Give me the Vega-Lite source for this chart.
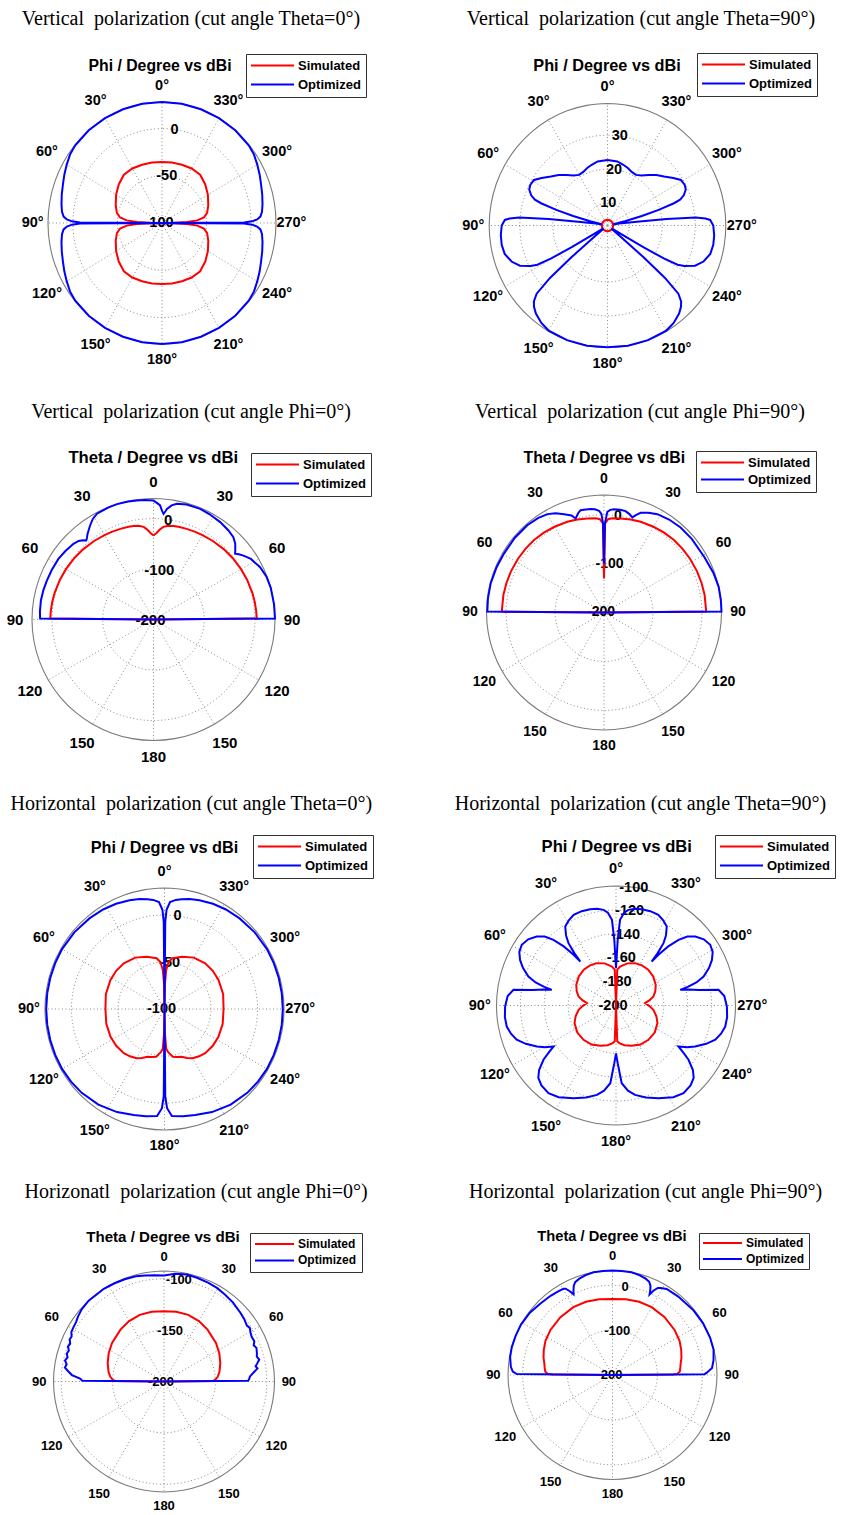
{
  "$schema": "https://vega.github.io/schema/vega-lite/v6.json",
  "background": "white",
  "padding": 0,
  "spacing": 0,
  "resolve": {"scale": {"color": "independent"}, "legend": {"color": "independent"}},
  "config": {
    "view": {"stroke": null},
    "legend": {
      "title": null, "orient": "none",
      "symbolType": "M-4.3,0H4.3", "symbolSize": 100, "symbolStrokeWidth": 2,
      "symbolOffset": 15, "labelOffset": 19,
      "labelFont": "Liberation Sans", "labelFontWeight": "bold", "labelFontSize": 13, "labelColor": "#000000",
      "padding": 5, "rowPadding": 5, "strokeColor": "#333333", "fillColor": "#ffffff", "cornerRadius": 0
    }
  },
  "datasets": {
    "axes": [
      {"p": 1, "rmin": -100, "rmax": 28},
      {"p": 2, "rmin": 3.4, "rmax": 39.3},
      {"p": 3, "rmin": -200, "rmax": 39.5},
      {"p": 4, "rmin": -200, "rmax": 40},
      {"p": 5, "rmin": -100, "rmax": 28.5},
      {"p": 6, "rmin": -200, "rmax": -100},
      {"p": 7, "rmin": -200, "rmax": -92.5},
      {"p": 8, "rmin": -200, "rmax": 32.6}
    ],
    "titles": [
      {"p": 1, "title": "Vertical\u00a0 polarization (cut angle Theta=0°)", "sub": "Phi / Degree vs dBi"},
      {"p": 2, "title": "Vertical\u00a0 polarization (cut angle Theta=90°)", "sub": "Phi / Degree vs dBi"},
      {"p": 3, "title": "Vertical\u00a0 polarization (cut angle Phi=0°)", "sub": "Theta / Degree vs dBi"},
      {"p": 4, "title": "Vertical\u00a0 polarization (cut angle Phi=90°)", "sub": "Theta / Degree vs dBi"},
      {"p": 5, "title": "Horizontal\u00a0 polarization (cut angle Theta=0°)", "sub": "Phi / Degree vs dBi"},
      {"p": 6, "title": "Horizontal\u00a0 polarization (cut angle Theta=90°)", "sub": "Phi / Degree vs dBi"},
      {"p": 7, "title": "Horizonatl\u00a0 polarization (cut angle Phi=0°)", "sub": "Theta / Degree vs dBi"},
      {"p": 8, "title": "Horizontal\u00a0 polarization (cut angle Phi=90°)", "sub": "Theta / Degree vs dBi"}
    ],
    "spokes": [
      {"deg": 0}, {"deg": 30}, {"deg": 60}, {"deg": 90}, {"deg": 120}, {"deg": 150},
      {"deg": 180}, {"deg": 210}, {"deg": 240}, {"deg": 270}, {"deg": 300}, {"deg": 330}
    ],
    "angleLabels": [
      {"kind": "phi", "deg": 0, "t": "0°"}, {"kind": "phi", "deg": 30, "t": "30°"}, {"kind": "phi", "deg": 60, "t": "60°"},
      {"kind": "phi", "deg": 90, "t": "90°"}, {"kind": "phi", "deg": 120, "t": "120°"}, {"kind": "phi", "deg": 150, "t": "150°"},
      {"kind": "phi", "deg": 180, "t": "180°"}, {"kind": "phi", "deg": 210, "t": "210°"}, {"kind": "phi", "deg": 240, "t": "240°"},
      {"kind": "phi", "deg": 270, "t": "270°"}, {"kind": "phi", "deg": 300, "t": "300°"}, {"kind": "phi", "deg": 330, "t": "330°"},
      {"kind": "theta", "deg": 0, "t": "0"}, {"kind": "theta", "deg": 30, "t": "30"}, {"kind": "theta", "deg": 60, "t": "60"},
      {"kind": "theta", "deg": 90, "t": "90"}, {"kind": "theta", "deg": 120, "t": "120"}, {"kind": "theta", "deg": 150, "t": "150"},
      {"kind": "theta", "deg": 180, "t": "180"}, {"kind": "theta", "deg": 210, "t": "150"}, {"kind": "theta", "deg": 240, "t": "120"},
      {"kind": "theta", "deg": 270, "t": "90"}, {"kind": "theta", "deg": 300, "t": "60"}, {"kind": "theta", "deg": 330, "t": "30"}
    ],
    "ringLabels": [
      {"p": 1, "db": -100, "t": "-100"}, {"p": 1, "db": -50, "t": "-50"}, {"p": 1, "db": 0, "t": "0"},
      {"p": 2, "db": 10, "t": "10"}, {"p": 2, "db": 20, "t": "20"}, {"p": 2, "db": 30, "t": "30"},
      {"p": 3, "db": -200, "t": "-200"}, {"p": 3, "db": -100, "t": "-100"}, {"p": 3, "db": 0, "t": "0"},
      {"p": 4, "db": -200, "t": "-200"}, {"p": 4, "db": -100, "t": "-100"}, {"p": 4, "db": 0, "t": "0"},
      {"p": 5, "db": -100, "t": "-100"}, {"p": 5, "db": -50, "t": "-50"}, {"p": 5, "db": 0, "t": "0"},
      {"p": 6, "db": -200, "t": "-200"}, {"p": 6, "db": -180, "t": "-180"}, {"p": 6, "db": -160, "t": "-160"},
      {"p": 6, "db": -140, "t": "-140"}, {"p": 6, "db": -120, "t": "-120"}, {"p": 6, "db": -100, "t": "-100"},
      {"p": 7, "db": -200, "t": "-200"}, {"p": 7, "db": -150, "t": "-150"}, {"p": 7, "db": -100, "t": "-100"},
      {"p": 8, "db": -200, "t": "-200"}, {"p": 8, "db": -100, "t": "-100"}, {"p": 8, "db": 0, "t": "0"}
    ],
    "rings": [
      {"p": 1, "ring": "grid", "db": -50, "deg": [0,10,20,30,40,50,60,70,80,90,100,110,120,130,140,150,160,170,180,190,200,210,220,230,240,250,260,270,280,290,300,310,320,330,340,350,360]},
      {"p": 1, "ring": "grid", "db": 0, "deg": [0,10,20,30,40,50,60,70,80,90,100,110,120,130,140,150,160,170,180,190,200,210,220,230,240,250,260,270,280,290,300,310,320,330,340,350,360]},
      {"p": 1, "ring": "edge", "db": 28, "deg": [0,10,20,30,40,50,60,70,80,90,100,110,120,130,140,150,160,170,180,190,200,210,220,230,240,250,260,270,280,290,300,310,320,330,340,350,360]},
      {"p": 2, "ring": "grid", "db": 10, "deg": [0,10,20,30,40,50,60,70,80,90,100,110,120,130,140,150,160,170,180,190,200,210,220,230,240,250,260,270,280,290,300,310,320,330,340,350,360]},
      {"p": 2, "ring": "grid", "db": 20, "deg": [0,10,20,30,40,50,60,70,80,90,100,110,120,130,140,150,160,170,180,190,200,210,220,230,240,250,260,270,280,290,300,310,320,330,340,350,360]},
      {"p": 2, "ring": "grid", "db": 30, "deg": [0,10,20,30,40,50,60,70,80,90,100,110,120,130,140,150,160,170,180,190,200,210,220,230,240,250,260,270,280,290,300,310,320,330,340,350,360]},
      {"p": 2, "ring": "edge", "db": 39.3, "deg": [0,10,20,30,40,50,60,70,80,90,100,110,120,130,140,150,160,170,180,190,200,210,220,230,240,250,260,270,280,290,300,310,320,330,340,350,360]},
      {"p": 3, "ring": "grid", "db": -100, "deg": [0,10,20,30,40,50,60,70,80,90,100,110,120,130,140,150,160,170,180,190,200,210,220,230,240,250,260,270,280,290,300,310,320,330,340,350,360]},
      {"p": 3, "ring": "grid", "db": 0, "deg": [0,10,20,30,40,50,60,70,80,90,100,110,120,130,140,150,160,170,180,190,200,210,220,230,240,250,260,270,280,290,300,310,320,330,340,350,360]},
      {"p": 3, "ring": "edge", "db": 39.5, "deg": [0,10,20,30,40,50,60,70,80,90,100,110,120,130,140,150,160,170,180,190,200,210,220,230,240,250,260,270,280,290,300,310,320,330,340,350,360]},
      {"p": 4, "ring": "grid", "db": -100, "deg": [0,10,20,30,40,50,60,70,80,90,100,110,120,130,140,150,160,170,180,190,200,210,220,230,240,250,260,270,280,290,300,310,320,330,340,350,360]},
      {"p": 4, "ring": "grid", "db": 0, "deg": [0,10,20,30,40,50,60,70,80,90,100,110,120,130,140,150,160,170,180,190,200,210,220,230,240,250,260,270,280,290,300,310,320,330,340,350,360]},
      {"p": 4, "ring": "edge", "db": 40, "deg": [0,10,20,30,40,50,60,70,80,90,100,110,120,130,140,150,160,170,180,190,200,210,220,230,240,250,260,270,280,290,300,310,320,330,340,350,360]},
      {"p": 5, "ring": "grid", "db": -50, "deg": [0,10,20,30,40,50,60,70,80,90,100,110,120,130,140,150,160,170,180,190,200,210,220,230,240,250,260,270,280,290,300,310,320,330,340,350,360]},
      {"p": 5, "ring": "grid", "db": 0, "deg": [0,10,20,30,40,50,60,70,80,90,100,110,120,130,140,150,160,170,180,190,200,210,220,230,240,250,260,270,280,290,300,310,320,330,340,350,360]},
      {"p": 5, "ring": "edge", "db": 28.5, "deg": [0,10,20,30,40,50,60,70,80,90,100,110,120,130,140,150,160,170,180,190,200,210,220,230,240,250,260,270,280,290,300,310,320,330,340,350,360]},
      {"p": 6, "ring": "grid", "db": -180, "deg": [0,10,20,30,40,50,60,70,80,90,100,110,120,130,140,150,160,170,180,190,200,210,220,230,240,250,260,270,280,290,300,310,320,330,340,350,360]},
      {"p": 6, "ring": "grid", "db": -160, "deg": [0,10,20,30,40,50,60,70,80,90,100,110,120,130,140,150,160,170,180,190,200,210,220,230,240,250,260,270,280,290,300,310,320,330,340,350,360]},
      {"p": 6, "ring": "grid", "db": -140, "deg": [0,10,20,30,40,50,60,70,80,90,100,110,120,130,140,150,160,170,180,190,200,210,220,230,240,250,260,270,280,290,300,310,320,330,340,350,360]},
      {"p": 6, "ring": "grid", "db": -120, "deg": [0,10,20,30,40,50,60,70,80,90,100,110,120,130,140,150,160,170,180,190,200,210,220,230,240,250,260,270,280,290,300,310,320,330,340,350,360]},
      {"p": 6, "ring": "edge", "db": -100, "deg": [0,10,20,30,40,50,60,70,80,90,100,110,120,130,140,150,160,170,180,190,200,210,220,230,240,250,260,270,280,290,300,310,320,330,340,350,360]},
      {"p": 7, "ring": "grid", "db": -150, "deg": [0,10,20,30,40,50,60,70,80,90,100,110,120,130,140,150,160,170,180,190,200,210,220,230,240,250,260,270,280,290,300,310,320,330,340,350,360]},
      {"p": 7, "ring": "grid", "db": -100, "deg": [0,10,20,30,40,50,60,70,80,90,100,110,120,130,140,150,160,170,180,190,200,210,220,230,240,250,260,270,280,290,300,310,320,330,340,350,360]},
      {"p": 7, "ring": "edge", "db": -92.5, "deg": [0,10,20,30,40,50,60,70,80,90,100,110,120,130,140,150,160,170,180,190,200,210,220,230,240,250,260,270,280,290,300,310,320,330,340,350,360]},
      {"p": 8, "ring": "grid", "db": -100, "deg": [0,10,20,30,40,50,60,70,80,90,100,110,120,130,140,150,160,170,180,190,200,210,220,230,240,250,260,270,280,290,300,310,320,330,340,350,360]},
      {"p": 8, "ring": "grid", "db": 0, "deg": [0,10,20,30,40,50,60,70,80,90,100,110,120,130,140,150,160,170,180,190,200,210,220,230,240,250,260,270,280,290,300,310,320,330,340,350,360]},
      {"p": 8, "ring": "edge", "db": 32.6, "deg": [0,10,20,30,40,50,60,70,80,90,100,110,120,130,140,150,160,170,180,190,200,210,220,230,240,250,260,270,280,290,300,310,320,330,340,350,360]}
    ],
    "curves": [
      {"p": 1, "s": "Simulated",
       "deg": [0,10,20,30,40,50,60,70,78,83,86,88,89.3,90,90.7,92,94,97,102,110,120,130,140,150,160,170,180,190,200,210,220,230,240,250,258,263,266,268,269.3,270,270.7,272,274,277,282,290,300,310,320,330,340,350,360],
       "db": [-35.5,-35.1,-34.5,-33.4,-33.4,-36.6,-40.5,-44.7,-48.2,-52.6,-60.3,-71.8,-87.2,-100,-87.2,-71.8,-60.3,-52.6,-48.2,-44.7,-40.5,-36.6,-33.4,-33.4,-34.5,-35.1,-35.5,-35.1,-34.5,-33.4,-33.4,-36.6,-40.5,-44.7,-48.2,-52.6,-60.3,-71.8,-87.2,-100,-87.2,-71.8,-60.3,-52.6,-48.2,-44.7,-40.5,-36.6,-33.4,-33.4,-34.5,-35.1,-35.5]},
      {"p": 1, "s": "Optimized",
       "deg": [0,10,20,30,40,50,55,60,65,70,75,80,84,86.5,88,89,89.6,90,90.4,91,92,93.5,96,100,105,110,115,120,125,130,140,150,160,170,180,190,200,210,220,230,235,240,245,250,255,260,264,266.5,268,269,269.6,270,270.4,271,272,273.5,276,280,285,290,295,300,305,310,320,330,340,350,360],
       "db": [28,28,28,28,28,27.4,26.1,23.5,21.0,18.4,16.5,14.6,12.9,10.7,6.9,1.1,-7.8,-100,-7.8,1.1,6.9,10.7,12.9,14.6,16.5,18.4,21.0,23.5,26.1,27.4,28,28,28,28,28,28,28,28,28,27.4,26.1,23.5,21.0,18.4,16.5,14.6,12.9,10.7,6.9,1.1,-7.8,-100,-7.8,1.1,6.9,10.7,12.9,14.6,16.5,18.4,21.0,23.5,26.1,27.4,28,28,28,28,28]},
      {"p": 2, "s": "Simulated",
       "deg": [0,15,30,45,60,75,90,105,120,135,150,165,180,195,210,225,240,255,270,285,300,315,330,345,360],
       "db": [5.1,5.1,5.1,5.1,5.1,5.1,5.1,5.1,5.1,5.1,5.1,5.1,5.1,5.1,5.1,5.1,5.1,5.1,5.1,5.1,5.1,5.1,5.1,5.1,5.1]},
      {"p": 2, "s": "Optimized",
       "deg": [0,9,15,20,25,30,35,40,45,50,55,59,63,66,69,71,72,73.5,75,76.5,78,80,81,83,84,85,86,87,90,95,100,105,110,114,117,118.5,119.5,120.5,121.5,123,128,129.5,130.5,131.5,133,135,137,140,145,150,160,170,180,190,200,210,215,220,223,225,227,228.5,229.5,230.5,232,237,238.5,239.5,240.5,241.5,243,246,250,255,260,265,270,273,274,275,276,277,279,280,282,283.5,285,286.5,288,289,291,294,297,301,305,310,315,320,325,330,335,340,345,351,360],
       "db": [22.7,22.5,21.9,21.4,20.8,20.6,21.4,22.8,24.4,25.8,27.8,29.4,29.7,29.4,28.2,26.7,24.6,19.6,14.2,8.8,5.5,5.2,7.0,12.4,21.4,30.3,33.2,34.6,35.5,35.9,36.0,35.7,34.4,32.5,29.6,27.6,23.2,16.0,7.7,5.2,5.2,8.8,17.8,26.7,32.8,35.0,36.1,37.2,38.4,39.1,39.3,39.3,39.2,39.3,39.3,39.1,38.4,37.2,36.1,35.0,32.8,26.7,17.8,8.8,5.2,5.2,7.7,16.0,23.2,27.6,29.6,32.5,34.4,35.7,36.0,35.9,35.5,34.6,33.2,30.3,21.4,12.4,7.0,5.2,5.5,8.8,14.2,19.6,24.6,26.7,28.2,29.4,29.7,29.4,27.8,25.8,24.4,22.8,21.4,20.6,20.8,21.4,21.9,22.5,22.7]},
      {"p": 3, "s": "Simulated",
       "deg": [0,2,4,6,9,12,15,20,25,30,37,45,52,60,67,75,80,85,89.5,90,270,270.5,275,280,285,293,300,308,315,323,330,335,340,345,348,351,354,356,358,360],
       "db": [-33.8,-28.8,-21.6,-15.6,-12.0,-10.8,-10.0,-9.1,-8.0,-7.0,-5.4,-3.6,-2.2,-0.7,0.6,1.9,2.6,3.1,3.6,-200,-200,3.6,3.1,2.6,1.9,0.6,-0.7,-2.2,-3.6,-5.4,-7.0,-8.0,-9.1,-10.0,-10.8,-12.0,-15.6,-21.6,-28.8,-33.8]},
      {"p": 3, "s": "Optimized",
       "deg": [0,4,8,12,17.5,22,28,31,34,37.5,39,40.3,41.5,43.5,46.5,52,57.4,64,70,75,80.4,86,89.5,90,270,270.5,277.3,285.3,291,296.2,302,305.5,307.5,309,310.5,313,316,320,325.7,332,337.2,344,348.6,351,353.1,353.7,354.6,355.5,356.7,358,360],
       "db": [35.4,37.1,37.8,38.8,39.5,39.0,37.1,32.3,23.9,13.6,8.4,5.0,9.6,14.4,17.5,20.3,22.5,23.2,23.9,24.7,25.1,24.4,23.5,-200,-200,39.5,39.5,39.5,38.3,34.2,26.3,17.9,12.0,6.9,12.0,20.3,26.6,29.9,33.3,35.9,37.6,36.6,33.5,28.7,20.3,15.6,10.0,15.6,26.1,29.9,35.4]},
      {"p": 4, "s": "Simulated",
       "deg": [0,0.7,2.5,5,10,16,22,30,37,44,51,58,66,73,80,89.5,90,270,270.5,280,287,294,302,309,316,323,330,338,344,350,355,357.5,359.3,360],
       "db": [-130.6,-18.3,-9.2,-7.0,-5.1,-2.6,0,2.2,4.1,5.7,6.5,7.1,7.8,8.2,8.6,8.8,-200,-200,8.8,8.6,8.2,7.8,7.1,6.5,5.7,4.1,2.2,0,-2.6,-5.1,-7.0,-9.2,-18.3,-130.6]},
      {"p": 4, "s": "Optimized",
       "deg": [0,0.6,1.5,2.8,5,7.3,10,12.9,14.5,16.8,18.5,22.1,26,29.9,35,41.3,50,59.5,67,75.6,83,89.5,90,270,270.5,276,282.6,290,299,310,318,325,331.5,336,339.8,341.7,343.4,345.5,348,351,354.5,356.5,358.1,359.4,360],
       "db": [-100,-18.3,1.6,7.8,11.7,12.9,13.6,14.3,10.0,0.6,8.8,16.7,25.6,31.8,35.2,37.4,37.6,37.1,38.1,39.0,38.8,38.3,-200,-200,40,40,40,37.6,34.2,34.0,33.8,31.8,28.5,23.2,17.0,10.0,2.6,7.6,11.7,12.4,11.9,10.0,5.7,-18.3,-100]},
      {"p": 5, "s": "Simulated",
       "deg": [0,1,2.5,5,9,19,30,42,52,62,76,90,104,117,127,137,143.5,150,155,160,165,170,175,177.5,179,180,181,182.5,185,190,195,200,205,210,216.5,223,233,243,256,270,284,298,308,318,330,341,351,355,357.5,359,360],
       "db": [-100,-73,-58.9,-49.9,-45.5,-41.3,-37.0,-34.6,-34.1,-34.2,-35.0,-36.5,-35.5,-34.9,-35.0,-35.8,-37.5,-39.6,-42.6,-46.0,-47.3,-48.6,-54,-57.6,-74.3,-100,-74.3,-57.6,-54,-48.6,-47.3,-46.0,-42.6,-39.6,-37.5,-35.8,-35.0,-34.9,-35.5,-36.5,-35.0,-34.2,-34.1,-34.6,-37.0,-41.3,-45.5,-49.9,-58.9,-73,-100]},
      {"p": 5, "s": "Optimized",
       "deg": [0,0.5,1.2,3,6,9,13,18,25,32,40,50,60,67.5,75,82.5,90,97.5,105,112.5,120,127.5,135,145,155,163.6,170,176,178.5,179.5,180,180.5,181.5,184,190,196.4,205,215,225,232.5,240,247.5,255,262.5,270,277.5,285,292.5,300,310,320,328,335,342,347,351,354,357,358.8,359.5,360],
       "db": [-100,-7.5,5.4,13.7,16.5,18.0,19.9,21.4,23.3,24.6,25.6,26.6,27.2,27.2,27.2,27.2,27.2,27.2,27.2,27.2,27.2,26.7,25.9,24.0,20.8,17.3,15.7,13.9,5.4,-7.5,-100,-7.5,5.4,13.9,15.7,17.3,20.8,24.0,25.9,26.7,27.2,27.2,27.2,27.2,27.2,27.2,27.2,27.2,27.2,26.6,25.6,24.6,23.3,21.4,19.9,18.0,16.5,13.7,5.4,-7.5,-100]},
      {"p": 6, "s": "Simulated",
       "deg": [0,2,6,15,24,33,42,52,62.5,70,76.5,81,85.3,91,96.6,105,113,125,136.6,148,158.8,168,175,178,180,182,185,192,201.2,212,223.4,235,247,255,263.4,269,274.7,279,283.5,290,297.5,308,318,327,336,345,354,358,360],
       "db": [-200,-170,-167.2,-163.5,-161.2,-160,-159.7,-160.5,-162.5,-165,-167.8,-171.5,-175.6,-172,-168.5,-165,-162.3,-160.5,-160.5,-161.5,-163.8,-166,-168.4,-170,-200,-170,-168.4,-166,-163.8,-161.5,-160.5,-160.5,-162.3,-165,-168.5,-172,-175.6,-171.5,-167.8,-165,-162.5,-160.5,-159.7,-160,-161.2,-163.5,-167.2,-170,-200]},
      {"p": 6, "s": "Optimized",
       "deg": [0,1.5,2.7,5,7.4,11,15,20,25,29,32.7,35.5,37.3,38.5,39,40,41.5,43.6,46,49,53,57.2,61,64.6,68,71.7,74,75.5,76.3,77.5,79.3,81.3,85,90.5,96,100.9,105,109,113,117.4,120.5,123.3,125,126.8,130,133,137,142.4,148,155.4,162,168,172,175.8,178.3,180,181.7,184.2,188,192,198,204.6,212,217.6,223,227,230,233.2,235,236.7,239.5,242.6,247,251,255,259.1,264,269.5,275,278.7,280.7,282.5,283.7,284.5,286,288.3,292,295.4,299,302.8,307,311,314,316.4,318.5,320,321,321.5,322.7,324.5,327.3,331,335,340,345,349,352.6,355,357.3,358.5,360],
       "db": [-168.8,-145,-128.2,-122,-119.3,-117.5,-116.6,-116,-116.2,-118.5,-121.4,-128,-134.4,-144,-152.6,-144,-134,-124.1,-117,-112.1,-108,-106.2,-107.5,-111.1,-116,-122.8,-130,-138,-144.7,-138,-129.7,-113.2,-109,-107.2,-106.5,-106.9,-109,-112.1,-118,-125.4,-131,-137.5,-131,-124.2,-116,-111.1,-108.5,-107.4,-109.5,-114.7,-119,-123.5,-128,-134.8,-151.7,-160,-151.7,-134.8,-128,-123.5,-119,-114.7,-109.5,-107.4,-108.5,-111.1,-116,-124.2,-131,-137.5,-131,-125.4,-118,-112.1,-109,-106.9,-106.5,-107.2,-109,-113.2,-129.7,-138,-144.7,-138,-130,-122.8,-116,-111.1,-107.5,-106.2,-108,-112.1,-117,-124.1,-134,-144,-152.6,-144,-134.4,-128,-121.4,-118.5,-116.2,-116,-116.6,-117.5,-119.3,-122,-128.2,-145,-168.8]},
      {"p": 7, "s": "Simulated",
       "deg": [0,10,20,30,40,53.5,63,72,80,85,88,89.5,90,270,270.5,272,275,280,288,297,306.5,320,330,340,350,360],
       "db": [-131.6,-131.2,-131.0,-132.1,-134.1,-137.1,-139.6,-142.4,-145.2,-147.6,-150,-152.7,-200,-200,-152.7,-150,-147.6,-145.2,-142.4,-139.6,-137.1,-134.1,-132.1,-131.0,-131.2,-131.6]},
      {"p": 7, "s": "Optimized",
       "deg": [0,5,10,15,21,27,33,38,43,49,53,56,59,62,64,66,68,70,72,74,76,78,80,82,84,86,88,89.5,90,270,270.5,271.5,273.4,276,278,279.4,281,283,285,287.2,290,292,294,297,299.4,302,304,308,312,319,325,330.5,336,342,347.8,354,360],
       "db": [-96.8,-96.3,-95.2,-94.1,-93.4,-93.0,-92.5,-93.0,-92.5,-93.6,-95.2,-96.8,-97.3,-97.9,-100.0,-99.5,-101.6,-100.6,-102.7,-101.6,-103.3,-101.6,-103.8,-102.7,-106.5,-110.2,-118.3,-120.5,-200,-200,-118.3,-117.2,-116.2,-111.9,-108.1,-109.7,-107.6,-104.9,-106.5,-105.4,-104.3,-105.9,-103.8,-104.3,-103.3,-101.6,-102.7,-101.1,-100.0,-97.9,-96.8,-95.4,-94.7,-94.1,-93.6,-94.7,-96.8]},
      {"p": 8, "s": "Simulated",
       "deg": [0,10,20,30,42,54,63,70,76,80,84,87,89,89.6,90,270,270.4,271,273,276,280,284,290,297,306,318,330,340,350,360],
       "db": [-30.9,-29.0,-26.7,-25.6,-26.7,-29.3,-32.5,-37.2,-41.8,-45.8,-48.3,-50,-55.8,-65.1,-200,-200,-65.1,-55.8,-50,-48.3,-45.8,-41.8,-37.2,-32.5,-29.3,-26.7,-25.6,-26.7,-29.0,-30.9]},
      {"p": 8, "s": "Optimized",
       "deg": [0,5,10.5,15,19,21.9,23.5,24.8,25.8,27,28.5,29.6,33,38,45.4,53,61,68,74.5,80,85.4,88,89.4,90,270,270.5,271.4,274,278.4,284,291,300,308.6,320,327.8,331,332.5,334,335.3,336,337,338.5,341,345,349.5,355,360],
       "db": [32.6,32.6,32.6,30.3,26.8,22.8,16.3,7.0,-0.7,9.3,18.6,20.7,22.1,23.8,26.1,30.3,32.6,32.6,32.6,31.4,27.0,22.1,12.8,-200,-200,5,10.0,22.1,27.3,31.9,32.6,32.1,30.7,27.8,26.2,21.5,18.6,9.3,-2.5,7.0,16.3,22.8,26.8,30.3,32.6,32.6,32.6]}
    ]
  },
  "vconcat": [
    {
      "spacing": 0,
      "resolve": {"scale": {"color": "independent"}, "legend": {"color": "independent"}},
      "hconcat": [
        {
          "width": 421, "height": 392,
          "encoding": {
            "x": {"field": "px", "type": "quantitative", "axis": null, "scale": {"domain": [-1.42105, 2.27193], "nice": false, "zero": false}},
            "y": {"field": "py", "type": "quantitative", "axis": null, "scale": {"domain": [-1.39669, 1.84298], "nice": false, "zero": false}}
          },
          "layer": [
            {"data": {"name": "rings"}, "transform": [{"filter": "datum.p == 1 && datum.ring == 'grid'"}, {"lookup": "p", "from": {"data": {"name": "axes"}, "key": "p", "fields": ["rmin", "rmax"]}}, {"flatten": ["deg"]}, {"calculate": "max(0, (datum.db - datum.rmin) / (datum.rmax - datum.rmin))", "as": "rn"}, {"calculate": "-datum.rn * sin(datum.deg * PI / 180)", "as": "px"}, {"calculate": "datum.rn * cos(datum.deg * PI / 180)", "as": "py"}],
             "mark": {"type": "line", "interpolate": "catmull-rom", "stroke": "#8c8c8c", "strokeWidth": 1, "strokeDash": [1, 2.5]},
             "encoding": {"detail": {"field": "db", "type": "quantitative"}, "order": {"field": "deg", "type": "quantitative"}}},
            {"data": {"name": "rings"}, "transform": [{"filter": "datum.p == 1 && datum.ring == 'edge'"}, {"lookup": "p", "from": {"data": {"name": "axes"}, "key": "p", "fields": ["rmin", "rmax"]}}, {"flatten": ["deg"]}, {"calculate": "max(0, (datum.db - datum.rmin) / (datum.rmax - datum.rmin))", "as": "rn"}, {"calculate": "-datum.rn * sin(datum.deg * PI / 180)", "as": "px"}, {"calculate": "datum.rn * cos(datum.deg * PI / 180)", "as": "py"}],
             "mark": {"type": "line", "interpolate": "catmull-rom", "stroke": "#7a7a7a", "strokeWidth": 1.1},
             "encoding": {"order": {"field": "deg", "type": "quantitative"}}},
            {"data": {"name": "spokes"}, "transform": [{"calculate": "0", "as": "px"}, {"calculate": "0", "as": "py"}, {"calculate": "-sin(datum.deg * PI / 180)", "as": "ex"}, {"calculate": "cos(datum.deg * PI / 180)", "as": "ey"}],
             "mark": {"type": "rule", "stroke": "#8c8c8c", "strokeWidth": 1, "strokeDash": [1, 2.5]},
             "encoding": {"x2": {"field": "ex"}, "y2": {"field": "ey"}}},
            {"data": {"name": "angleLabels"}, "transform": [{"filter": "datum.kind == 'phi'"}, {"calculate": "1.135 + 0.035 * abs(sin(2 * datum.deg * PI / 180))", "as": "f"}, {"calculate": "-datum.f * sin(datum.deg * PI / 180)", "as": "px"}, {"calculate": "datum.f * cos(datum.deg * PI / 180)", "as": "py"}],
             "mark": {"type": "text", "font": "Liberation Sans", "fontWeight": "bold", "fontSize": 14.5, "align": "center", "baseline": "middle", "color": "#000000"},
             "encoding": {"text": {"field": "t"}}},
            {"data": {"name": "ringLabels"}, "transform": [{"filter": "datum.p == 1"}, {"lookup": "p", "from": {"data": {"name": "axes"}, "key": "p", "fields": ["rmin", "rmax"]}}, {"calculate": "max(0, (datum.db - datum.rmin) / (datum.rmax - datum.rmin))", "as": "rn"}, {"calculate": "datum.rn * sin(10 * PI / 180)", "as": "px"}, {"calculate": "datum.rn * cos(10 * PI / 180)", "as": "py"}],
             "mark": {"type": "text", "font": "Liberation Sans", "fontWeight": "bold", "fontSize": 14.5, "align": "center", "baseline": "middle", "dx": -3, "color": "#000000"},
             "encoding": {"text": {"field": "t"}}},
            {"data": {"name": "curves"}, "transform": [{"filter": "datum.p == 1"}, {"lookup": "p", "from": {"data": {"name": "axes"}, "key": "p", "fields": ["rmin", "rmax"]}}, {"flatten": ["deg", "db"]}, {"calculate": "max(0, (datum.db - datum.rmin) / (datum.rmax - datum.rmin))", "as": "rn"}, {"calculate": "-datum.rn * sin(datum.deg * PI / 180)", "as": "px"}, {"calculate": "datum.rn * cos(datum.deg * PI / 180)", "as": "py"}],
             "mark": {"type": "line", "strokeWidth": 2},
             "encoding": {
               "color": {"field": "s", "type": "nominal", "scale": {"domain": ["Simulated", "Optimized"], "range": ["#ff0000", "#0000ff"]}, "legend": {"legendX": 246, "legendY": 54}},
               "order": {"field": "deg", "type": "quantitative"}}},
            {"data": {"name": "titles"}, "transform": [{"filter": "datum.p == 1"}, {"calculate": "0.254", "as": "px"}, {"calculate": "1.639", "as": "py"}],
             "mark": {"type": "text", "font": "Liberation Serif", "fontSize": 20, "align": "center", "baseline": "alphabetic", "color": "#000000"},
             "encoding": {"text": {"field": "title"}}},
            {"data": {"name": "titles"}, "transform": [{"filter": "datum.p == 1"}, {"calculate": "-0.0175", "as": "px"}, {"calculate": "1.259", "as": "py"}],
             "mark": {"type": "text", "font": "Liberation Sans", "fontWeight": "bold", "fontSize": 15.8, "align": "center", "baseline": "alphabetic", "color": "#000000"},
             "encoding": {"text": {"field": "sub"}}}
          ]
        },
        {
          "width": 421, "height": 392,
          "encoding": {
            "x": {"field": "px", "type": "quantitative", "axis": null, "scale": {"domain": [-1.5765, 1.98225], "nice": false, "zero": false}},
            "y": {"field": "py", "type": "quantitative", "axis": null, "scale": {"domain": [-1.36475, 1.84836], "nice": false, "zero": false}}
          },
          "layer": [
            {"data": {"name": "rings"}, "transform": [{"filter": "datum.p == 2 && datum.ring == 'grid'"}, {"lookup": "p", "from": {"data": {"name": "axes"}, "key": "p", "fields": ["rmin", "rmax"]}}, {"flatten": ["deg"]}, {"calculate": "max(0, (datum.db - datum.rmin) / (datum.rmax - datum.rmin))", "as": "rn"}, {"calculate": "-datum.rn * sin(datum.deg * PI / 180)", "as": "px"}, {"calculate": "datum.rn * cos(datum.deg * PI / 180)", "as": "py"}],
             "mark": {"type": "line", "interpolate": "catmull-rom", "stroke": "#8c8c8c", "strokeWidth": 1, "strokeDash": [1, 2.5]},
             "encoding": {"detail": {"field": "db", "type": "quantitative"}, "order": {"field": "deg", "type": "quantitative"}}},
            {"data": {"name": "rings"}, "transform": [{"filter": "datum.p == 2 && datum.ring == 'edge'"}, {"lookup": "p", "from": {"data": {"name": "axes"}, "key": "p", "fields": ["rmin", "rmax"]}}, {"flatten": ["deg"]}, {"calculate": "max(0, (datum.db - datum.rmin) / (datum.rmax - datum.rmin))", "as": "rn"}, {"calculate": "-datum.rn * sin(datum.deg * PI / 180)", "as": "px"}, {"calculate": "datum.rn * cos(datum.deg * PI / 180)", "as": "py"}],
             "mark": {"type": "line", "interpolate": "catmull-rom", "stroke": "#7a7a7a", "strokeWidth": 1.1},
             "encoding": {"order": {"field": "deg", "type": "quantitative"}}},
            {"data": {"name": "spokes"}, "transform": [{"calculate": "0", "as": "px"}, {"calculate": "0", "as": "py"}, {"calculate": "-sin(datum.deg * PI / 180)", "as": "ex"}, {"calculate": "cos(datum.deg * PI / 180)", "as": "ey"}],
             "mark": {"type": "rule", "stroke": "#8c8c8c", "strokeWidth": 1, "strokeDash": [1, 2.5]},
             "encoding": {"x2": {"field": "ex"}, "y2": {"field": "ey"}}},
            {"data": {"name": "angleLabels"}, "transform": [{"filter": "datum.kind == 'phi'"}, {"calculate": "1.135 + 0.035 * abs(sin(2 * datum.deg * PI / 180))", "as": "f"}, {"calculate": "-datum.f * sin(datum.deg * PI / 180)", "as": "px"}, {"calculate": "datum.f * cos(datum.deg * PI / 180)", "as": "py"}],
             "mark": {"type": "text", "font": "Liberation Sans", "fontWeight": "bold", "fontSize": 14.5, "align": "center", "baseline": "middle", "color": "#000000"},
             "encoding": {"text": {"field": "t"}}},
            {"data": {"name": "ringLabels"}, "transform": [{"filter": "datum.p == 2"}, {"lookup": "p", "from": {"data": {"name": "axes"}, "key": "p", "fields": ["rmin", "rmax"]}}, {"calculate": "max(0, (datum.db - datum.rmin) / (datum.rmax - datum.rmin))", "as": "rn"}, {"calculate": "datum.rn * sin(10 * PI / 180)", "as": "px"}, {"calculate": "datum.rn * cos(10 * PI / 180)", "as": "py"}],
             "mark": {"type": "text", "font": "Liberation Sans", "fontWeight": "bold", "fontSize": 14.5, "align": "center", "baseline": "middle", "dx": -3, "color": "#000000"},
             "encoding": {"text": {"field": "t"}}},
            {"data": {"name": "curves"}, "transform": [{"filter": "datum.p == 2"}, {"lookup": "p", "from": {"data": {"name": "axes"}, "key": "p", "fields": ["rmin", "rmax"]}}, {"flatten": ["deg", "db"]}, {"calculate": "max(0, (datum.db - datum.rmin) / (datum.rmax - datum.rmin))", "as": "rn"}, {"calculate": "-datum.rn * sin(datum.deg * PI / 180)", "as": "px"}, {"calculate": "datum.rn * cos(datum.deg * PI / 180)", "as": "py"}],
             "mark": {"type": "line", "strokeWidth": 2},
             "encoding": {
               "color": {"field": "s", "type": "nominal", "scale": {"domain": ["Simulated", "Optimized"], "range": ["#ff0000", "#0000ff"]}, "legend": {"legendX": 276, "legendY": 53}},
               "order": {"field": "deg", "type": "quantitative"}}},
            {"data": {"name": "titles"}, "transform": [{"filter": "datum.p == 2"}, {"calculate": "0.283", "as": "px"}, {"calculate": "1.646", "as": "py"}],
             "mark": {"type": "text", "font": "Liberation Serif", "fontSize": 20, "align": "center", "baseline": "alphabetic", "color": "#000000"},
             "encoding": {"text": {"field": "title"}}},
            {"data": {"name": "titles"}, "transform": [{"filter": "datum.p == 2"}, {"calculate": "-0.004", "as": "px"}, {"calculate": "1.269", "as": "py"}],
             "mark": {"type": "text", "font": "Liberation Sans", "fontWeight": "bold", "fontSize": 16.3, "align": "center", "baseline": "alphabetic", "color": "#000000"},
             "encoding": {"text": {"field": "sub"}}}
          ]
        }
      ]
    },
    {
      "spacing": 0,
      "resolve": {"scale": {"color": "independent"}, "legend": {"color": "independent"}},
      "hconcat": [
        {
          "width": 421, "height": 393,
          "encoding": {
            "x": {"field": "px", "type": "quantitative", "axis": null, "scale": {"domain": [-1.26337, 2.20165], "nice": false, "zero": false}},
            "y": {"field": "py", "type": "quantitative", "axis": null, "scale": {"domain": [-1.36777, 1.88017], "nice": false, "zero": false}}
          },
          "layer": [
            {"data": {"name": "rings"}, "transform": [{"filter": "datum.p == 3 && datum.ring == 'grid'"}, {"lookup": "p", "from": {"data": {"name": "axes"}, "key": "p", "fields": ["rmin", "rmax"]}}, {"flatten": ["deg"]}, {"calculate": "max(0, (datum.db - datum.rmin) / (datum.rmax - datum.rmin))", "as": "rn"}, {"calculate": "-datum.rn * sin(datum.deg * PI / 180)", "as": "px"}, {"calculate": "datum.rn * cos(datum.deg * PI / 180)", "as": "py"}],
             "mark": {"type": "line", "interpolate": "catmull-rom", "stroke": "#8c8c8c", "strokeWidth": 1, "strokeDash": [1, 2.5]},
             "encoding": {"detail": {"field": "db", "type": "quantitative"}, "order": {"field": "deg", "type": "quantitative"}}},
            {"data": {"name": "rings"}, "transform": [{"filter": "datum.p == 3 && datum.ring == 'edge'"}, {"lookup": "p", "from": {"data": {"name": "axes"}, "key": "p", "fields": ["rmin", "rmax"]}}, {"flatten": ["deg"]}, {"calculate": "max(0, (datum.db - datum.rmin) / (datum.rmax - datum.rmin))", "as": "rn"}, {"calculate": "-datum.rn * sin(datum.deg * PI / 180)", "as": "px"}, {"calculate": "datum.rn * cos(datum.deg * PI / 180)", "as": "py"}],
             "mark": {"type": "line", "interpolate": "catmull-rom", "stroke": "#7a7a7a", "strokeWidth": 1.1},
             "encoding": {"order": {"field": "deg", "type": "quantitative"}}},
            {"data": {"name": "spokes"}, "transform": [{"calculate": "0", "as": "px"}, {"calculate": "0", "as": "py"}, {"calculate": "-sin(datum.deg * PI / 180)", "as": "ex"}, {"calculate": "cos(datum.deg * PI / 180)", "as": "ey"}],
             "mark": {"type": "rule", "stroke": "#8c8c8c", "strokeWidth": 1, "strokeDash": [1, 2.5]},
             "encoding": {"x2": {"field": "ex"}, "y2": {"field": "ey"}}},
            {"data": {"name": "angleLabels"}, "transform": [{"filter": "datum.kind == 'theta'"}, {"calculate": "1.14 + 0.04 * abs(sin(2 * datum.deg * PI / 180))", "as": "f"}, {"calculate": "-datum.f * sin(datum.deg * PI / 180)", "as": "px"}, {"calculate": "datum.f * cos(datum.deg * PI / 180)", "as": "py"}],
             "mark": {"type": "text", "font": "Liberation Sans", "fontWeight": "bold", "fontSize": 15, "align": "center", "baseline": "middle", "color": "#000000"},
             "encoding": {"text": {"field": "t"}}},
            {"data": {"name": "ringLabels"}, "transform": [{"filter": "datum.p == 3"}, {"lookup": "p", "from": {"data": {"name": "axes"}, "key": "p", "fields": ["rmin", "rmax"]}}, {"calculate": "max(0, (datum.db - datum.rmin) / (datum.rmax - datum.rmin))", "as": "rn"}, {"calculate": "datum.rn * sin(10 * PI / 180)", "as": "px"}, {"calculate": "datum.rn * cos(10 * PI / 180)", "as": "py"}],
             "mark": {"type": "text", "font": "Liberation Sans", "fontWeight": "bold", "fontSize": 15, "align": "center", "baseline": "middle", "dx": -3, "color": "#000000"},
             "encoding": {"text": {"field": "t"}}},
            {"data": {"name": "curves"}, "transform": [{"filter": "datum.p == 3"}, {"lookup": "p", "from": {"data": {"name": "axes"}, "key": "p", "fields": ["rmin", "rmax"]}}, {"flatten": ["deg", "db"]}, {"calculate": "max(0, (datum.db - datum.rmin) / (datum.rmax - datum.rmin))", "as": "rn"}, {"calculate": "-datum.rn * sin(datum.deg * PI / 180)", "as": "px"}, {"calculate": "datum.rn * cos(datum.deg * PI / 180)", "as": "py"}],
             "mark": {"type": "line", "strokeWidth": 2},
             "encoding": {
               "color": {"field": "s", "type": "nominal", "scale": {"domain": ["Simulated", "Optimized"], "range": ["#ff0000", "#0000ff"]}, "legend": {"legendX": 251, "legendY": 61}},
               "order": {"field": "deg", "type": "quantitative"}}},
            {"data": {"name": "titles"}, "transform": [{"filter": "datum.p == 3"}, {"calculate": "0.309", "as": "px"}, {"calculate": "1.668", "as": "py"}],
             "mark": {"type": "text", "font": "Liberation Serif", "fontSize": 20, "align": "center", "baseline": "alphabetic", "color": "#000000"},
             "encoding": {"text": {"field": "title"}}},
            {"data": {"name": "titles"}, "transform": [{"filter": "datum.p == 3"}, {"calculate": "-0.002", "as": "px"}, {"calculate": "1.291", "as": "py"}],
             "mark": {"type": "text", "font": "Liberation Sans", "fontWeight": "bold", "fontSize": 16.7, "align": "center", "baseline": "alphabetic", "color": "#000000"},
             "encoding": {"text": {"field": "sub"}}}
          ]
        },
        {
          "width": 421, "height": 393,
          "encoding": {
            "x": {"field": "px", "type": "quantitative", "axis": null, "scale": {"domain": [-1.55745, 2.02553], "nice": false, "zero": false}},
            "y": {"field": "py", "type": "quantitative", "axis": null, "scale": {"domain": [-1.46809, 1.8766], "nice": false, "zero": false}}
          },
          "layer": [
            {"data": {"name": "rings"}, "transform": [{"filter": "datum.p == 4 && datum.ring == 'grid'"}, {"lookup": "p", "from": {"data": {"name": "axes"}, "key": "p", "fields": ["rmin", "rmax"]}}, {"flatten": ["deg"]}, {"calculate": "max(0, (datum.db - datum.rmin) / (datum.rmax - datum.rmin))", "as": "rn"}, {"calculate": "-datum.rn * sin(datum.deg * PI / 180)", "as": "px"}, {"calculate": "datum.rn * cos(datum.deg * PI / 180)", "as": "py"}],
             "mark": {"type": "line", "interpolate": "catmull-rom", "stroke": "#8c8c8c", "strokeWidth": 1, "strokeDash": [1, 2.5]},
             "encoding": {"detail": {"field": "db", "type": "quantitative"}, "order": {"field": "deg", "type": "quantitative"}}},
            {"data": {"name": "rings"}, "transform": [{"filter": "datum.p == 4 && datum.ring == 'edge'"}, {"lookup": "p", "from": {"data": {"name": "axes"}, "key": "p", "fields": ["rmin", "rmax"]}}, {"flatten": ["deg"]}, {"calculate": "max(0, (datum.db - datum.rmin) / (datum.rmax - datum.rmin))", "as": "rn"}, {"calculate": "-datum.rn * sin(datum.deg * PI / 180)", "as": "px"}, {"calculate": "datum.rn * cos(datum.deg * PI / 180)", "as": "py"}],
             "mark": {"type": "line", "interpolate": "catmull-rom", "stroke": "#7a7a7a", "strokeWidth": 1.1},
             "encoding": {"order": {"field": "deg", "type": "quantitative"}}},
            {"data": {"name": "spokes"}, "transform": [{"calculate": "0", "as": "px"}, {"calculate": "0", "as": "py"}, {"calculate": "-sin(datum.deg * PI / 180)", "as": "ex"}, {"calculate": "cos(datum.deg * PI / 180)", "as": "ey"}],
             "mark": {"type": "rule", "stroke": "#8c8c8c", "strokeWidth": 1, "strokeDash": [1, 2.5]},
             "encoding": {"x2": {"field": "ex"}, "y2": {"field": "ey"}}},
            {"data": {"name": "angleLabels"}, "transform": [{"filter": "datum.kind == 'theta'"}, {"calculate": "1.14 + 0.04 * abs(sin(2 * datum.deg * PI / 180))", "as": "f"}, {"calculate": "-datum.f * sin(datum.deg * PI / 180)", "as": "px"}, {"calculate": "datum.f * cos(datum.deg * PI / 180)", "as": "py"}],
             "mark": {"type": "text", "font": "Liberation Sans", "fontWeight": "bold", "fontSize": 14, "align": "center", "baseline": "middle", "color": "#000000"},
             "encoding": {"text": {"field": "t"}}},
            {"data": {"name": "ringLabels"}, "transform": [{"filter": "datum.p == 4"}, {"lookup": "p", "from": {"data": {"name": "axes"}, "key": "p", "fields": ["rmin", "rmax"]}}, {"calculate": "max(0, (datum.db - datum.rmin) / (datum.rmax - datum.rmin))", "as": "rn"}, {"calculate": "datum.rn * sin(10 * PI / 180)", "as": "px"}, {"calculate": "datum.rn * cos(10 * PI / 180)", "as": "py"}],
             "mark": {"type": "text", "font": "Liberation Sans", "fontWeight": "bold", "fontSize": 14, "align": "center", "baseline": "middle", "dx": -3, "color": "#000000"},
             "encoding": {"text": {"field": "t"}}},
            {"data": {"name": "curves"}, "transform": [{"filter": "datum.p == 4"}, {"lookup": "p", "from": {"data": {"name": "axes"}, "key": "p", "fields": ["rmin", "rmax"]}}, {"flatten": ["deg", "db"]}, {"calculate": "max(0, (datum.db - datum.rmin) / (datum.rmax - datum.rmin))", "as": "rn"}, {"calculate": "-datum.rn * sin(datum.deg * PI / 180)", "as": "px"}, {"calculate": "datum.rn * cos(datum.deg * PI / 180)", "as": "py"}],
             "mark": {"type": "line", "strokeWidth": 2},
             "encoding": {
               "color": {"field": "s", "type": "nominal", "scale": {"domain": ["Simulated", "Optimized"], "range": ["#ff0000", "#0000ff"]}, "legend": {"legendX": 275, "legendY": 59, "rowPadding": 3}},
               "order": {"field": "deg", "type": "quantitative"}}},
            {"data": {"name": "titles"}, "transform": [{"filter": "datum.p == 4"}, {"calculate": "0.306", "as": "px"}, {"calculate": "1.658", "as": "py"}],
             "mark": {"type": "text", "font": "Liberation Serif", "fontSize": 20, "align": "center", "baseline": "alphabetic", "color": "#000000"},
             "encoding": {"text": {"field": "title"}}},
            {"data": {"name": "titles"}, "transform": [{"filter": "datum.p == 4"}, {"calculate": "0.002", "as": "px"}, {"calculate": "1.275", "as": "py"}],
             "mark": {"type": "text", "font": "Liberation Sans", "fontWeight": "bold", "fontSize": 15.9, "align": "center", "baseline": "alphabetic", "color": "#000000"},
             "encoding": {"text": {"field": "sub"}}}
          ]
        }
      ]
    },
    {
      "spacing": 0,
      "resolve": {"scale": {"color": "independent"}, "legend": {"color": "independent"}},
      "hconcat": [
        {
          "width": 421, "height": 390,
          "encoding": {
            "x": {"field": "px", "type": "quantitative", "axis": null, "scale": {"domain": [-1.37657, 2.14644], "nice": false, "zero": false}},
            "y": {"field": "py", "type": "quantitative", "axis": null, "scale": {"domain": [-1.3719, 1.85124], "nice": false, "zero": false}}
          },
          "layer": [
            {"data": {"name": "rings"}, "transform": [{"filter": "datum.p == 5 && datum.ring == 'grid'"}, {"lookup": "p", "from": {"data": {"name": "axes"}, "key": "p", "fields": ["rmin", "rmax"]}}, {"flatten": ["deg"]}, {"calculate": "max(0, (datum.db - datum.rmin) / (datum.rmax - datum.rmin))", "as": "rn"}, {"calculate": "-datum.rn * sin(datum.deg * PI / 180)", "as": "px"}, {"calculate": "datum.rn * cos(datum.deg * PI / 180)", "as": "py"}],
             "mark": {"type": "line", "interpolate": "catmull-rom", "stroke": "#8c8c8c", "strokeWidth": 1, "strokeDash": [1, 2.5]},
             "encoding": {"detail": {"field": "db", "type": "quantitative"}, "order": {"field": "deg", "type": "quantitative"}}},
            {"data": {"name": "rings"}, "transform": [{"filter": "datum.p == 5 && datum.ring == 'edge'"}, {"lookup": "p", "from": {"data": {"name": "axes"}, "key": "p", "fields": ["rmin", "rmax"]}}, {"flatten": ["deg"]}, {"calculate": "max(0, (datum.db - datum.rmin) / (datum.rmax - datum.rmin))", "as": "rn"}, {"calculate": "-datum.rn * sin(datum.deg * PI / 180)", "as": "px"}, {"calculate": "datum.rn * cos(datum.deg * PI / 180)", "as": "py"}],
             "mark": {"type": "line", "interpolate": "catmull-rom", "stroke": "#7a7a7a", "strokeWidth": 1.1},
             "encoding": {"order": {"field": "deg", "type": "quantitative"}}},
            {"data": {"name": "spokes"}, "transform": [{"calculate": "0", "as": "px"}, {"calculate": "0", "as": "py"}, {"calculate": "-sin(datum.deg * PI / 180)", "as": "ex"}, {"calculate": "cos(datum.deg * PI / 180)", "as": "ey"}],
             "mark": {"type": "rule", "stroke": "#8c8c8c", "strokeWidth": 1, "strokeDash": [1, 2.5]},
             "encoding": {"x2": {"field": "ex"}, "y2": {"field": "ey"}}},
            {"data": {"name": "angleLabels"}, "transform": [{"filter": "datum.kind == 'phi'"}, {"calculate": "1.135 + 0.035 * abs(sin(2 * datum.deg * PI / 180))", "as": "f"}, {"calculate": "-datum.f * sin(datum.deg * PI / 180)", "as": "px"}, {"calculate": "datum.f * cos(datum.deg * PI / 180)", "as": "py"}],
             "mark": {"type": "text", "font": "Liberation Sans", "fontWeight": "bold", "fontSize": 14.5, "align": "center", "baseline": "middle", "color": "#000000"},
             "encoding": {"text": {"field": "t"}}},
            {"data": {"name": "ringLabels"}, "transform": [{"filter": "datum.p == 5"}, {"lookup": "p", "from": {"data": {"name": "axes"}, "key": "p", "fields": ["rmin", "rmax"]}}, {"calculate": "max(0, (datum.db - datum.rmin) / (datum.rmax - datum.rmin))", "as": "rn"}, {"calculate": "datum.rn * sin(10 * PI / 180)", "as": "px"}, {"calculate": "datum.rn * cos(10 * PI / 180)", "as": "py"}],
             "mark": {"type": "text", "font": "Liberation Sans", "fontWeight": "bold", "fontSize": 14.5, "align": "center", "baseline": "middle", "dx": -3, "color": "#000000"},
             "encoding": {"text": {"field": "t"}}},
            {"data": {"name": "curves"}, "transform": [{"filter": "datum.p == 5"}, {"lookup": "p", "from": {"data": {"name": "axes"}, "key": "p", "fields": ["rmin", "rmax"]}}, {"flatten": ["deg", "db"]}, {"calculate": "max(0, (datum.db - datum.rmin) / (datum.rmax - datum.rmin))", "as": "rn"}, {"calculate": "-datum.rn * sin(datum.deg * PI / 180)", "as": "px"}, {"calculate": "datum.rn * cos(datum.deg * PI / 180)", "as": "py"}],
             "mark": {"type": "line", "strokeWidth": 2},
             "encoding": {
               "color": {"field": "s", "type": "nominal", "scale": {"domain": ["Simulated", "Optimized"], "range": ["#ff0000", "#0000ff"]}, "legend": {"legendX": 253, "legendY": 50}},
               "order": {"field": "deg", "type": "quantitative"}}},
            {"data": {"name": "titles"}, "transform": [{"filter": "datum.p == 5"}, {"calculate": "0.224", "as": "px"}, {"calculate": "1.647", "as": "py"}],
             "mark": {"type": "text", "font": "Liberation Serif", "fontSize": 20, "align": "center", "baseline": "alphabetic", "color": "#000000"},
             "encoding": {"text": {"field": "title"}}},
            {"data": {"name": "titles"}, "transform": [{"filter": "datum.p == 5"}, {"calculate": "0", "as": "px"}, {"calculate": "1.292", "as": "py"}],
             "mark": {"type": "text", "font": "Liberation Sans", "fontWeight": "bold", "fontSize": 16.3, "align": "center", "baseline": "alphabetic", "color": "#000000"},
             "encoding": {"text": {"field": "sub"}}}
          ]
        },
        {
          "width": 421, "height": 390,
          "encoding": {
            "x": {"field": "px", "type": "quantitative", "axis": null, "scale": {"domain": [-1.6318, 1.89121], "nice": false, "zero": false}},
            "y": {"field": "py", "type": "quantitative", "axis": null, "scale": {"domain": [-1.41841, 1.84519], "nice": false, "zero": false}}
          },
          "layer": [
            {"data": {"name": "rings"}, "transform": [{"filter": "datum.p == 6 && datum.ring == 'grid'"}, {"lookup": "p", "from": {"data": {"name": "axes"}, "key": "p", "fields": ["rmin", "rmax"]}}, {"flatten": ["deg"]}, {"calculate": "max(0, (datum.db - datum.rmin) / (datum.rmax - datum.rmin))", "as": "rn"}, {"calculate": "-datum.rn * sin(datum.deg * PI / 180)", "as": "px"}, {"calculate": "datum.rn * cos(datum.deg * PI / 180)", "as": "py"}],
             "mark": {"type": "line", "interpolate": "catmull-rom", "stroke": "#8c8c8c", "strokeWidth": 1, "strokeDash": [1, 2.5]},
             "encoding": {"detail": {"field": "db", "type": "quantitative"}, "order": {"field": "deg", "type": "quantitative"}}},
            {"data": {"name": "rings"}, "transform": [{"filter": "datum.p == 6 && datum.ring == 'edge'"}, {"lookup": "p", "from": {"data": {"name": "axes"}, "key": "p", "fields": ["rmin", "rmax"]}}, {"flatten": ["deg"]}, {"calculate": "max(0, (datum.db - datum.rmin) / (datum.rmax - datum.rmin))", "as": "rn"}, {"calculate": "-datum.rn * sin(datum.deg * PI / 180)", "as": "px"}, {"calculate": "datum.rn * cos(datum.deg * PI / 180)", "as": "py"}],
             "mark": {"type": "line", "interpolate": "catmull-rom", "stroke": "#7a7a7a", "strokeWidth": 1.1},
             "encoding": {"order": {"field": "deg", "type": "quantitative"}}},
            {"data": {"name": "spokes"}, "transform": [{"calculate": "0", "as": "px"}, {"calculate": "0", "as": "py"}, {"calculate": "-sin(datum.deg * PI / 180)", "as": "ex"}, {"calculate": "cos(datum.deg * PI / 180)", "as": "ey"}],
             "mark": {"type": "rule", "stroke": "#8c8c8c", "strokeWidth": 1, "strokeDash": [1, 2.5]},
             "encoding": {"x2": {"field": "ex"}, "y2": {"field": "ey"}}},
            {"data": {"name": "angleLabels"}, "transform": [{"filter": "datum.kind == 'phi'"}, {"calculate": "1.14 + 0.035 * abs(sin(2 * datum.deg * PI / 180))", "as": "f"}, {"calculate": "-datum.f * sin(datum.deg * PI / 180)", "as": "px"}, {"calculate": "datum.f * cos(datum.deg * PI / 180)", "as": "py"}],
             "mark": {"type": "text", "font": "Liberation Sans", "fontWeight": "bold", "fontSize": 14.5, "align": "center", "baseline": "middle", "color": "#000000"},
             "encoding": {"text": {"field": "t"}}},
            {"data": {"name": "ringLabels"}, "transform": [{"filter": "datum.p == 6"}, {"lookup": "p", "from": {"data": {"name": "axes"}, "key": "p", "fields": ["rmin", "rmax"]}}, {"calculate": "max(0, (datum.db - datum.rmin) / (datum.rmax - datum.rmin))", "as": "rn"}, {"calculate": "datum.rn * sin(10 * PI / 180)", "as": "px"}, {"calculate": "datum.rn * cos(10 * PI / 180)", "as": "py"}],
             "mark": {"type": "text", "font": "Liberation Sans", "fontWeight": "bold", "fontSize": 14.5, "align": "center", "baseline": "middle", "dx": -3, "color": "#000000"},
             "encoding": {"text": {"field": "t"}}},
            {"data": {"name": "curves"}, "transform": [{"filter": "datum.p == 6"}, {"lookup": "p", "from": {"data": {"name": "axes"}, "key": "p", "fields": ["rmin", "rmax"]}}, {"flatten": ["deg", "db"]}, {"calculate": "max(0, (datum.db - datum.rmin) / (datum.rmax - datum.rmin))", "as": "rn"}, {"calculate": "-datum.rn * sin(datum.deg * PI / 180)", "as": "px"}, {"calculate": "datum.rn * cos(datum.deg * PI / 180)", "as": "py"}],
             "mark": {"type": "line", "strokeWidth": 2},
             "encoding": {
               "color": {"field": "s", "type": "nominal", "scale": {"domain": ["Simulated", "Optimized"], "range": ["#ff0000", "#0000ff"]}, "legend": {"legendX": 294, "legendY": 50}},
               "order": {"field": "deg", "type": "quantitative"}}},
            {"data": {"name": "titles"}, "transform": [{"filter": "datum.p == 6"}, {"calculate": "0.205", "as": "px"}, {"calculate": "1.638", "as": "py"}],
             "mark": {"type": "text", "font": "Liberation Serif", "fontSize": 20, "align": "center", "baseline": "alphabetic", "color": "#000000"},
             "encoding": {"text": {"field": "title"}}},
            {"data": {"name": "titles"}, "transform": [{"filter": "datum.p == 6"}, {"calculate": "0.006", "as": "px"}, {"calculate": "1.287", "as": "py"}],
             "mark": {"type": "text", "font": "Liberation Sans", "fontWeight": "bold", "fontSize": 16.6, "align": "center", "baseline": "alphabetic", "color": "#000000"},
             "encoding": {"text": {"field": "sub"}}}
          ]
        }
      ]
    },
    {
      "spacing": 0,
      "resolve": {"scale": {"color": "independent"}, "legend": {"color": "independent"}},
      "hconcat": [
        {
          "width": 421, "height": 340,
          "encoding": {
            "x": {"field": "px", "type": "quantitative", "axis": null, "scale": {"domain": [-1.48416, 2.32579], "nice": false, "zero": false}},
            "y": {"field": "py", "type": "quantitative", "axis": null, "scale": {"domain": [-1.20814, 1.86878], "nice": false, "zero": false}}
          },
          "layer": [
            {"data": {"name": "rings"}, "transform": [{"filter": "datum.p == 7 && datum.ring == 'grid'"}, {"lookup": "p", "from": {"data": {"name": "axes"}, "key": "p", "fields": ["rmin", "rmax"]}}, {"flatten": ["deg"]}, {"calculate": "max(0, (datum.db - datum.rmin) / (datum.rmax - datum.rmin))", "as": "rn"}, {"calculate": "-datum.rn * sin(datum.deg * PI / 180)", "as": "px"}, {"calculate": "datum.rn * cos(datum.deg * PI / 180)", "as": "py"}],
             "mark": {"type": "line", "interpolate": "catmull-rom", "stroke": "#8c8c8c", "strokeWidth": 1, "strokeDash": [1, 2.5]},
             "encoding": {"detail": {"field": "db", "type": "quantitative"}, "order": {"field": "deg", "type": "quantitative"}}},
            {"data": {"name": "rings"}, "transform": [{"filter": "datum.p == 7 && datum.ring == 'edge'"}, {"lookup": "p", "from": {"data": {"name": "axes"}, "key": "p", "fields": ["rmin", "rmax"]}}, {"flatten": ["deg"]}, {"calculate": "max(0, (datum.db - datum.rmin) / (datum.rmax - datum.rmin))", "as": "rn"}, {"calculate": "-datum.rn * sin(datum.deg * PI / 180)", "as": "px"}, {"calculate": "datum.rn * cos(datum.deg * PI / 180)", "as": "py"}],
             "mark": {"type": "line", "interpolate": "catmull-rom", "stroke": "#7a7a7a", "strokeWidth": 1.1},
             "encoding": {"order": {"field": "deg", "type": "quantitative"}}},
            {"data": {"name": "spokes"}, "transform": [{"calculate": "0", "as": "px"}, {"calculate": "0", "as": "py"}, {"calculate": "-sin(datum.deg * PI / 180)", "as": "ex"}, {"calculate": "cos(datum.deg * PI / 180)", "as": "ey"}],
             "mark": {"type": "rule", "stroke": "#8c8c8c", "strokeWidth": 1, "strokeDash": [1, 2.5]},
             "encoding": {"x2": {"field": "ex"}, "y2": {"field": "ey"}}},
            {"data": {"name": "angleLabels"}, "transform": [{"filter": "datum.kind == 'theta'"}, {"calculate": "1.13 + 0.05 * abs(sin(2 * datum.deg * PI / 180))", "as": "f"}, {"calculate": "-datum.f * sin(datum.deg * PI / 180)", "as": "px"}, {"calculate": "datum.f * cos(datum.deg * PI / 180)", "as": "py"}],
             "mark": {"type": "text", "font": "Liberation Sans", "fontWeight": "bold", "fontSize": 13, "align": "center", "baseline": "middle", "color": "#000000"},
             "encoding": {"text": {"field": "t"}}},
            {"data": {"name": "ringLabels"}, "transform": [{"filter": "datum.p == 7"}, {"lookup": "p", "from": {"data": {"name": "axes"}, "key": "p", "fields": ["rmin", "rmax"]}}, {"calculate": "max(0, (datum.db - datum.rmin) / (datum.rmax - datum.rmin))", "as": "rn"}, {"calculate": "datum.rn * sin(10 * PI / 180)", "as": "px"}, {"calculate": "datum.rn * cos(10 * PI / 180)", "as": "py"}],
             "mark": {"type": "text", "font": "Liberation Sans", "fontWeight": "bold", "fontSize": 13, "align": "center", "baseline": "middle", "dx": -3, "color": "#000000"},
             "encoding": {"text": {"field": "t"}}},
            {"data": {"name": "curves"}, "transform": [{"filter": "datum.p == 7"}, {"lookup": "p", "from": {"data": {"name": "axes"}, "key": "p", "fields": ["rmin", "rmax"]}}, {"flatten": ["deg", "db"]}, {"calculate": "max(0, (datum.db - datum.rmin) / (datum.rmax - datum.rmin))", "as": "rn"}, {"calculate": "-datum.rn * sin(datum.deg * PI / 180)", "as": "px"}, {"calculate": "datum.rn * cos(datum.deg * PI / 180)", "as": "py"}],
             "mark": {"type": "line", "strokeWidth": 2},
             "encoding": {
               "color": {"field": "s", "type": "nominal", "scale": {"domain": ["Simulated", "Optimized"], "range": ["#ff0000", "#0000ff"]}, "legend": {"legendX": 250, "legendY": 58, "symbolType": "M-3.9,0H3.9", "symbolOffset": 13.5, "labelOffset": 17.5, "labelFontSize": 12, "rowPadding": 4.4}},
               "order": {"field": "deg", "type": "quantitative"}}},
            {"data": {"name": "titles"}, "transform": [{"filter": "datum.p == 7"}, {"calculate": "0.291", "as": "px"}, {"calculate": "1.658", "as": "py"}],
             "mark": {"type": "text", "font": "Liberation Serif", "fontSize": 20, "align": "center", "baseline": "alphabetic", "color": "#000000"},
             "encoding": {"text": {"field": "title"}}},
            {"data": {"name": "titles"}, "transform": [{"filter": "datum.p == 7"}, {"calculate": "-0.009", "as": "px"}, {"calculate": "1.265", "as": "py"}],
             "mark": {"type": "text", "font": "Liberation Sans", "fontWeight": "bold", "fontSize": 15.1, "align": "center", "baseline": "alphabetic", "color": "#000000"},
             "encoding": {"text": {"field": "sub"}}}
          ]
        },
        {
          "width": 421, "height": 340,
          "encoding": {
            "x": {"field": "px", "type": "quantitative", "axis": null, "scale": {"domain": [-1.83254, 2.19617], "nice": false, "zero": false}},
            "y": {"field": "py", "type": "quantitative", "axis": null, "scale": {"domain": [-1.33971, 1.91388], "nice": false, "zero": false}}
          },
          "layer": [
            {"data": {"name": "rings"}, "transform": [{"filter": "datum.p == 8 && datum.ring == 'grid'"}, {"lookup": "p", "from": {"data": {"name": "axes"}, "key": "p", "fields": ["rmin", "rmax"]}}, {"flatten": ["deg"]}, {"calculate": "max(0, (datum.db - datum.rmin) / (datum.rmax - datum.rmin))", "as": "rn"}, {"calculate": "-datum.rn * sin(datum.deg * PI / 180)", "as": "px"}, {"calculate": "datum.rn * cos(datum.deg * PI / 180)", "as": "py"}],
             "mark": {"type": "line", "interpolate": "catmull-rom", "stroke": "#8c8c8c", "strokeWidth": 1, "strokeDash": [1, 2.5]},
             "encoding": {"detail": {"field": "db", "type": "quantitative"}, "order": {"field": "deg", "type": "quantitative"}}},
            {"data": {"name": "rings"}, "transform": [{"filter": "datum.p == 8 && datum.ring == 'edge'"}, {"lookup": "p", "from": {"data": {"name": "axes"}, "key": "p", "fields": ["rmin", "rmax"]}}, {"flatten": ["deg"]}, {"calculate": "max(0, (datum.db - datum.rmin) / (datum.rmax - datum.rmin))", "as": "rn"}, {"calculate": "-datum.rn * sin(datum.deg * PI / 180)", "as": "px"}, {"calculate": "datum.rn * cos(datum.deg * PI / 180)", "as": "py"}],
             "mark": {"type": "line", "interpolate": "catmull-rom", "stroke": "#7a7a7a", "strokeWidth": 1.1},
             "encoding": {"order": {"field": "deg", "type": "quantitative"}}},
            {"data": {"name": "spokes"}, "transform": [{"calculate": "0", "as": "px"}, {"calculate": "0", "as": "py"}, {"calculate": "-sin(datum.deg * PI / 180)", "as": "ex"}, {"calculate": "cos(datum.deg * PI / 180)", "as": "ey"}],
             "mark": {"type": "rule", "stroke": "#8c8c8c", "strokeWidth": 1, "strokeDash": [1, 2.5]},
             "encoding": {"x2": {"field": "ex"}, "y2": {"field": "ey"}}},
            {"data": {"name": "angleLabels"}, "transform": [{"filter": "datum.kind == 'theta'"}, {"calculate": "1.14 + 0.05 * abs(sin(2 * datum.deg * PI / 180))", "as": "f"}, {"calculate": "-datum.f * sin(datum.deg * PI / 180)", "as": "px"}, {"calculate": "datum.f * cos(datum.deg * PI / 180)", "as": "py"}],
             "mark": {"type": "text", "font": "Liberation Sans", "fontWeight": "bold", "fontSize": 13, "align": "center", "baseline": "middle", "color": "#000000"},
             "encoding": {"text": {"field": "t"}}},
            {"data": {"name": "ringLabels"}, "transform": [{"filter": "datum.p == 8"}, {"lookup": "p", "from": {"data": {"name": "axes"}, "key": "p", "fields": ["rmin", "rmax"]}}, {"calculate": "max(0, (datum.db - datum.rmin) / (datum.rmax - datum.rmin))", "as": "rn"}, {"calculate": "datum.rn * sin(10 * PI / 180)", "as": "px"}, {"calculate": "datum.rn * cos(10 * PI / 180)", "as": "py"}],
             "mark": {"type": "text", "font": "Liberation Sans", "fontWeight": "bold", "fontSize": 13, "align": "center", "baseline": "middle", "dx": -3, "color": "#000000"},
             "encoding": {"text": {"field": "t"}}},
            {"data": {"name": "curves"}, "transform": [{"filter": "datum.p == 8"}, {"lookup": "p", "from": {"data": {"name": "axes"}, "key": "p", "fields": ["rmin", "rmax"]}}, {"flatten": ["deg", "db"]}, {"calculate": "max(0, (datum.db - datum.rmin) / (datum.rmax - datum.rmin))", "as": "rn"}, {"calculate": "-datum.rn * sin(datum.deg * PI / 180)", "as": "px"}, {"calculate": "datum.rn * cos(datum.deg * PI / 180)", "as": "py"}],
             "mark": {"type": "line", "strokeWidth": 2},
             "encoding": {
               "color": {"field": "s", "type": "nominal", "scale": {"domain": ["Simulated", "Optimized"], "range": ["#ff0000", "#0000ff"]}, "legend": {"legendX": 278, "legendY": 58, "symbolType": "M-3.9,0H3.9", "symbolOffset": 13.5, "labelOffset": 17.5, "labelFontSize": 12, "padding": 4, "rowPadding": 4}},
               "order": {"field": "deg", "type": "quantitative"}}},
            {"data": {"name": "titles"}, "transform": [{"filter": "datum.p == 8"}, {"calculate": "0.316", "as": "px"}, {"calculate": "1.691", "as": "py"}],
             "mark": {"type": "text", "font": "Liberation Serif", "fontSize": 20, "align": "center", "baseline": "alphabetic", "color": "#000000"},
             "encoding": {"text": {"field": "title"}}},
            {"data": {"name": "titles"}, "transform": [{"filter": "datum.p == 8"}, {"calculate": "-0.005", "as": "px"}, {"calculate": "1.285", "as": "py"}],
             "mark": {"type": "text", "font": "Liberation Sans", "fontWeight": "bold", "fontSize": 14.7, "align": "center", "baseline": "alphabetic", "color": "#000000"},
             "encoding": {"text": {"field": "sub"}}}
          ]
        }
      ]
    }
  ]
}
